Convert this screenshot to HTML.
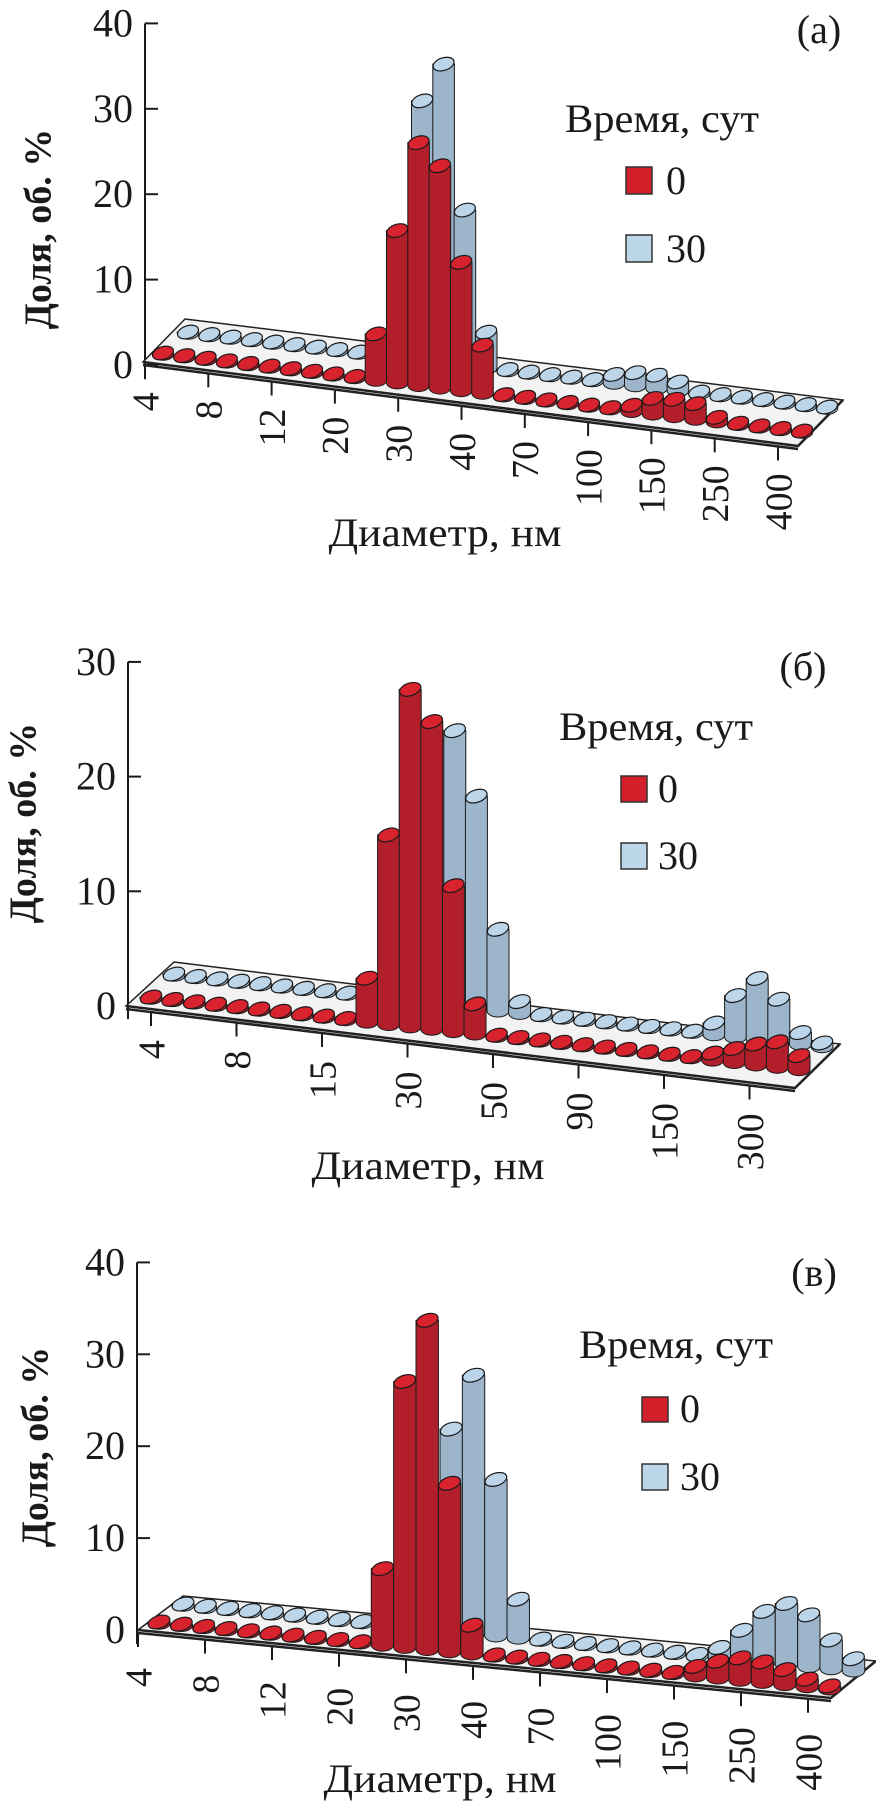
<!DOCTYPE html>
<html><head><meta charset="utf-8"><style>
html,body{margin:0;padding:0;background:#fff}
svg{display:block}
text{font-family:"Liberation Serif","Times New Roman","DejaVu Serif",serif;fill:#1a1a1a}
</style></head><body>
<svg id="fig" width="876" height="1802" viewBox="0 0 876 1802" xmlns="http://www.w3.org/2000/svg"></svg>
<script>
// ---- data (visual % values, 31 size classes per panel) ----
const redA  = [0,0,0,0,0,0,0,0,0,0,5.4,17.8,28.4,26,15,5.6,0,0,0,0,0,0,0.7,1.8,2,1.8,0.5,0,0,0,0];
const blueA = [0,0,0,0,0,0,0,0,0,0,0,30.4,35,18.2,4.2,0,0,0,0,0,1,1.5,1.5,1,0,0,0,0,0,0,0];
const ticksA = ["4","8","12","20","30","40","70","100","150","250","400"];
const yTicksA = [0,10,20,30,40];

const redB  = [0,0,0,0,0,0,0,0,0,0,3.8,16.5,29.4,26.8,12.7,2.6,0,0,0,0,0,0,0,0,0,0,0.6,1.2,1.8,2.2,1.2];
const blueB = [0,0,0,0,0,0,0,0,0,0,0,0,0,24,18.5,7.1,1,0,0,0,0,0,0,0,0,1,3.6,5.3,3.7,1,0.3];
const ticksB = ["4","8","15","30","50","90","150","300"];
const yTicksB = [0,10,20,30];

const redC  = [0,0,0,0,0,0,0,0,0,0,8.3,28.9,35.8,18.3,3.1,0,0,0,0,0,0,0,0,0,1,1.8,2.4,2.2,1.6,0.8,0.3];
const blueC = [0,0,0,0,0,0,0,0,0,0,0,0,22,28.1,17,4.2,0,0,0,0,0,0,0,0,1.1,3.2,5.5,6.6,5.6,3.1,1.3];
const ticksC = ["4","8","12","20","30","40","70","100","150","250","400"];
const yTicksC = [0,10,20,30,40];

const NS = "http://www.w3.org/2000/svg";
const svg = document.getElementById('fig');
function mk(tag, attrs, parent){
  const e = document.createElementNS(NS, tag);
  for (const k in attrs) e.setAttribute(k, attrs[k]);
  (parent||svg).appendChild(e);
  return e;
}

const panels = [
 {id:'a', tag:'(а)', red:redA, blue:blueA, ticks:ticksA, yTicks:yTicksA,
  axisX:145, y0:365, k:8.54, axisBottom:379,
  front:[163,354], back:[188,333], dx:21.3, dyF:2.6, dyB:2.5,
  floor:[[185,319],[843,400],[798,446],[143,362]],
  tickX0:145, tickStep:63.3, labelOff:30, rx:10.8,
  ylab:[37,229], tagPos:[819,43], leg:[565,132,626,167,666,194,235,262],
  xtitle:[445,546]},
 {id:'b', tag:'(б)', red:redB, blue:blueB, ticks:ticksB, yTicks:yTicksB,
  axisX:128, y0:1006, k:11.47, axisBottom:1019,
  front:[151,998], back:[174,975], dx:21.6, dyF:2.38, dyB:2.38,
  floor:[[174,962],[840,1044],[795,1088],[126,1006]],
  tickX0:151, tickStep:85.5, labelOff:31, rx:11,
  ylab:[22,823], tagPos:[803,680], leg:[559,740,621,776,658,802,843,869],
  xtitle:[428,1179]},
 {id:'c', tag:'(в)', red:redC, blue:blueC, ticks:ticksC, yTicks:yTicksC,
  axisX:137, y0:1630, k:9.19, axisBottom:1644,
  front:[159,1623], back:[183,1605], dx:22.35, dyF:2.19, dyB:2.19,
  floor:[[183,1596],[876,1661],[831,1698],[138,1630]],
  tickX0:138, tickStep:67, labelOff:38, rx:11.2,
  ylab:[34,1447], tagPos:[814,1286], leg:[579,1358,642,1397,680,1422,1464,1490],
  xtitle:[440,1792]}
];

function bar(g, cx, fy, h, rx, kind){
  const ry = 6.3, rot = -18;
  const body = kind==='red' ? '#b21f2a' : '#9cb5ca';
  const top  = kind==='red' ? '#d8232e' : '#bcd5e8';
  const hh = Math.max(h, 1);
  const b = mk('path', {d:`M${cx-rx},${fy-hh} L${cx-rx},${fy} A${rx},${ry} 0 0 0 ${cx+rx},${fy} L${cx+rx},${fy-hh} Z`,
    fill:body, stroke:'#1a1a1a','stroke-width':1}, g);
  
  
  const t = mk('ellipse', {cx:cx, cy:fy-hh, rx:rx, ry:ry, fill:top, stroke:'#1a1a1a','stroke-width':1.2,
    transform:`rotate(${rot} ${cx} ${fy-hh})`}, g);
  
  
}

panels.forEach(p=>{
  const g = mk('g', {});
  
  
  const ax = mk('line', {x1:p.axisX, y1:p.y0 - p.k*p.yTicks[p.yTicks.length-1], x2:p.axisX, y2:p.axisBottom, stroke:'#1a1a1a','stroke-width':2}, g);
  
  
  p.yTicks.forEach(v=>{
    const y = p.y0 - p.k*v;
    const tl = mk('line', {x1:p.axisX, y1:y, x2:p.axisX+13, y2:y, stroke:'#1a1a1a','stroke-width':2}, g);
    
    
    const tx = mk('text', {x:p.axisX-12, y:y+13, 'text-anchor':'end','font-size':40}, g);
    tx.textContent = v;
    
    
  });
  const yl = mk('text', {x:p.ylab[0], y:p.ylab[1], 'text-anchor':'middle','font-size':38,'font-weight':'bold',
    dy:'0.35em', transform:`rotate(-90 ${p.ylab[0]} ${p.ylab[1]})`}, g);
  yl.textContent = 'Доля, об. %';
  
  
  const f = p.floor;
  const fl = mk('polygon', {points:f.map(q=>q.join(',')).join(' '), fill:'#f3f3f3', stroke:'#222','stroke-width':1.5}, g);
  
  
  const fe = mk('path', {d:`M${f[3][0]},${f[3][1]} L${f[2][0]},${f[2][1]} L${f[1][0]},${f[1][1]} M${f[3][0]},${f[3][1]+3} L${f[2][0]},${f[2][1]+3}`,
    fill:'none', stroke:'#222','stroke-width':2.5}, g);
  
  
  const edgeY = x => f[3][1] + (x - f[3][0])*(f[2][1]-f[3][1])/(f[2][0]-f[3][0]);
  p.ticks.forEach((lab,j)=>{
    const x = p.tickX0 + p.tickStep*j;
    const ey = edgeY(x);
    const tl = mk('line', {x1:x, y1:ey+4, x2:x, y2:ey+17, stroke:'#1a1a1a','stroke-width':2}, g);
    
    
    const ty = ey + p.labelOff;
    const tx = mk('text', {x:x, y:ty, 'text-anchor':'end','font-size':38, dy:'0.35em',
      transform:`rotate(-90 ${x} ${ty})`}, g);
    tx.textContent = lab;
    
    
  });
  p.blue.forEach((v,i)=>{
    const cx = p.back[0] + p.dx*i, fy = p.back[1] + p.dyB*i;
    bar(g, cx, fy, v*p.k, p.rx, 'blue');
  });
  p.red.forEach((v,i)=>{
    const cx = p.front[0] + p.dx*i, fy = p.front[1] + p.dyF*i;
    bar(g, cx, fy, v*p.k, p.rx, 'red');
  });
  const tg = mk('text', {x:p.tagPos[0], y:p.tagPos[1], 'text-anchor':'middle','font-size':40}, g);
  tg.textContent = p.tag;
  
  
  const L = p.leg;
  const lt = mk('text', {x:L[0], y:L[1], 'font-size':40, textLength:194, lengthAdjust:'spacingAndGlyphs'}, g);
  lt.textContent = 'Время, сут';
  
  
  const s1 = mk('rect', {x:L[2], y:L[3], width:26, height:L[5]-L[3], fill:'#d21f2a', stroke:'#333','stroke-width':1.5}, g);
  
  
  const t1 = mk('text', {x:L[4], y:L[5], 'font-size':40}, g);
  t1.textContent = '0';
  
  
  const s2 = mk('rect', {x:L[2], y:L[6], width:26, height:L[7]-L[6], fill:'#bcd6ea', stroke:'#333','stroke-width':1.5}, g);
  
  
  const t2 = mk('text', {x:L[4], y:L[7], 'font-size':40}, g);
  t2.textContent = '30';
  
  
  const xt = mk('text', {x:p.xtitle[0], y:p.xtitle[1], 'text-anchor':'middle','font-size':40, textLength:233, lengthAdjust:'spacingAndGlyphs'}, g);
  xt.textContent = 'Диаметр, нм';
  
  
});
</script>
</body></html>
